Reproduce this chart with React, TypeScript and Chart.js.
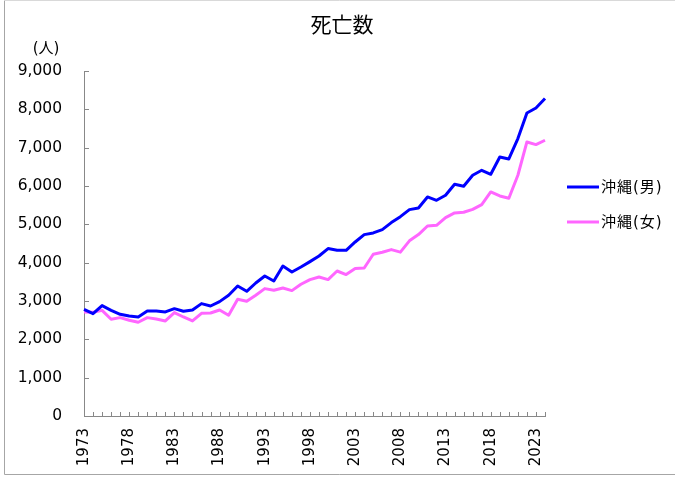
import React, { useEffect, useRef } from "react";
import { Chart, registerables } from "chart.js";

Chart.register(...registerables);

const years: string[] = [];
for (let y = 1973; y <= 2024; y++) years.push(String(y));

const maleDeaths = [
  2784, 2671, 2880, 2757, 2653, 2609, 2583, 2740, 2740, 2714,
  2801, 2731, 2766, 2932, 2870, 2984, 3149, 3392, 3253, 3470,
  3653, 3522, 3913, 3757, 3887, 4028, 4174, 4367, 4323, 4323,
  4540, 4732, 4775, 4863, 5045, 5200, 5384, 5427, 5714, 5627,
  5758, 6045, 5993, 6280, 6410, 6306, 6757, 6705, 7237, 7905,
  8036, 8281,
];

const femaleDeaths = [
  2714, 2705, 2757, 2523, 2566, 2497, 2445, 2566, 2531, 2479,
  2697, 2583, 2479, 2679, 2687, 2766, 2627, 3044, 2992, 3149,
  3323, 3279, 3340, 3271, 3436, 3558, 3627, 3558, 3783, 3689,
  3845, 3862, 4219, 4271, 4341, 4275, 4570, 4732, 4957, 4975,
  5176, 5297, 5314, 5392, 5515, 5844, 5740, 5680, 6280, 7149,
  7080, 7193,
];

const seriesNames = ["沖縄(男)", "沖縄(女)"];
const seriesColors = ["#0000ff", "#ff66ff"];
const chartTitle = "死亡数";
const unitLabel = "(人)";

const FONT = '"DejaVu Sans", "Noto Sans CJK JP", sans-serif';
const AXIS = "#888888";

const decorPlugin = {
  id: "decor",
  afterDraw(chart: any) {
    const ctx = chart.ctx;
    const xs = chart.scales.x;
    const ys = chart.scales.y;
    const area = chart.chartArea;
    ctx.save();
    // outer border
    ctx.strokeStyle = "#a6a6a6";
    ctx.lineWidth = 1;
    ctx.beginPath();
    ctx.moveTo(4.5, 0.5);
    ctx.lineTo(4.5, 474.5);
    ctx.lineTo(675, 474.5);
    ctx.stroke();
    ctx.strokeStyle = "#d9d9d9";
    ctx.beginPath();
    ctx.moveTo(4.5, 0.5);
    ctx.lineTo(675, 0.5);
    ctx.stroke();

    // inside ticks
    ctx.strokeStyle = AXIS;
    ctx.beginPath();
    for (let v = 0; v <= 9000; v += 1000) {
      const y = Math.round(ys.getPixelForValue(v)) + 0.5;
      ctx.moveTo(area.left, y);
      ctx.lineTo(area.left + 5, y);
    }
    for (let i = 0; i < years.length; i++) {
      const x = Math.round(xs.getPixelForValue(i)) + 0.5;
      ctx.moveTo(x, area.bottom);
      ctx.lineTo(x, area.bottom - 4);
    }
    ctx.stroke();

    // title
    ctx.fillStyle = "#000000";
    ctx.font = `21px ${FONT}`;
    ctx.textAlign = "center";
    ctx.textBaseline = "middle";
    ctx.fillText(chartTitle, 342, 27);

    // unit
    ctx.font = `15px ${FONT}`;
    ctx.fillText(unitLabel, 46, 49);

    // legend
    const legendY = [187, 222];
    ctx.textAlign = "left";
    for (let k = 0; k < seriesNames.length; k++) {
      ctx.strokeStyle = seriesColors[k];
      ctx.lineWidth = 3;
      ctx.beginPath();
      ctx.moveTo(567, legendY[k]);
      ctx.lineTo(599, legendY[k]);
      ctx.stroke();
      ctx.fillStyle = "#000000";
      ctx.font = `15px ${FONT}`;
      (ctx as any).letterSpacing = "1px";
      ctx.fillText(seriesNames[k], 601, legendY[k] + 1);
      (ctx as any).letterSpacing = "0px";
    }
    ctx.restore();
  },
};

export default function App() {
  const ref = useRef<HTMLCanvasElement | null>(null);
  useEffect(() => {
    if (!ref.current) return;
    const chart = new Chart(ref.current, {
      type: "line",
      data: {
        labels: years,
        datasets: [
          {
            label: seriesNames[0],
            data: maleDeaths,
            borderColor: seriesColors[0],
            backgroundColor: seriesColors[0],
            borderWidth: 3,
            pointRadius: 0,
            tension: 0,
            borderJoinStyle: "round",
          },
          {
            label: seriesNames[1],
            data: femaleDeaths,
            borderColor: seriesColors[1],
            backgroundColor: seriesColors[1],
            borderWidth: 3,
            pointRadius: 0,
            tension: 0,
            borderJoinStyle: "round",
          },
        ],
      },
      options: {
        responsive: false,
        animation: false,
        devicePixelRatio: 1,
        layout: { padding: { left: 0, top: 71, right: 130, bottom: 0 } },
        plugins: {
          legend: { display: false },
          title: { display: false },
          tooltip: { enabled: false },
        },
        scales: {
          x: {
            type: "category",
            offset: false,
            grid: { display: false, drawTicks: false },
            border: { display: true, color: AXIS, width: 1 },
            ticks: {
              autoSkip: false,
              maxRotation: 90,
              minRotation: 90,
              padding: 12,
              color: "#000000",
              font: { family: FONT, size: 15 },
              callback: (_v: any, i: number) =>
                (Number(years[i]) - 1973) % 5 === 0 ? years[i] : "",
            },
            afterFit: (s: any) => {
              s.height = 477 - 416;
            },
          },
          y: {
            min: 0,
            max: 9000,
            grid: { display: false, drawTicks: false },
            border: { display: true, color: AXIS, width: 1 },
            ticks: {
              stepSize: 1000,
              padding: 22,
              color: "#000000",
              font: { family: FONT, size: 15.5 },
              callback: (v: any) => Number(v).toLocaleString("en-US"),
            },
            afterFit: (s: any) => {
              s.width = 84;
            },
          },
        },
      },
      plugins: [decorPlugin],
    });
    return () => chart.destroy();
  }, []);
  return (
    <div style={{ position: "fixed", left: 0, top: 0, width: 675, height: 477, background: "#fff" }}>
      <canvas ref={ref} width={675} height={477} style={{ width: 675, height: 477, display: "block" }} />
    </div>
  );
}
